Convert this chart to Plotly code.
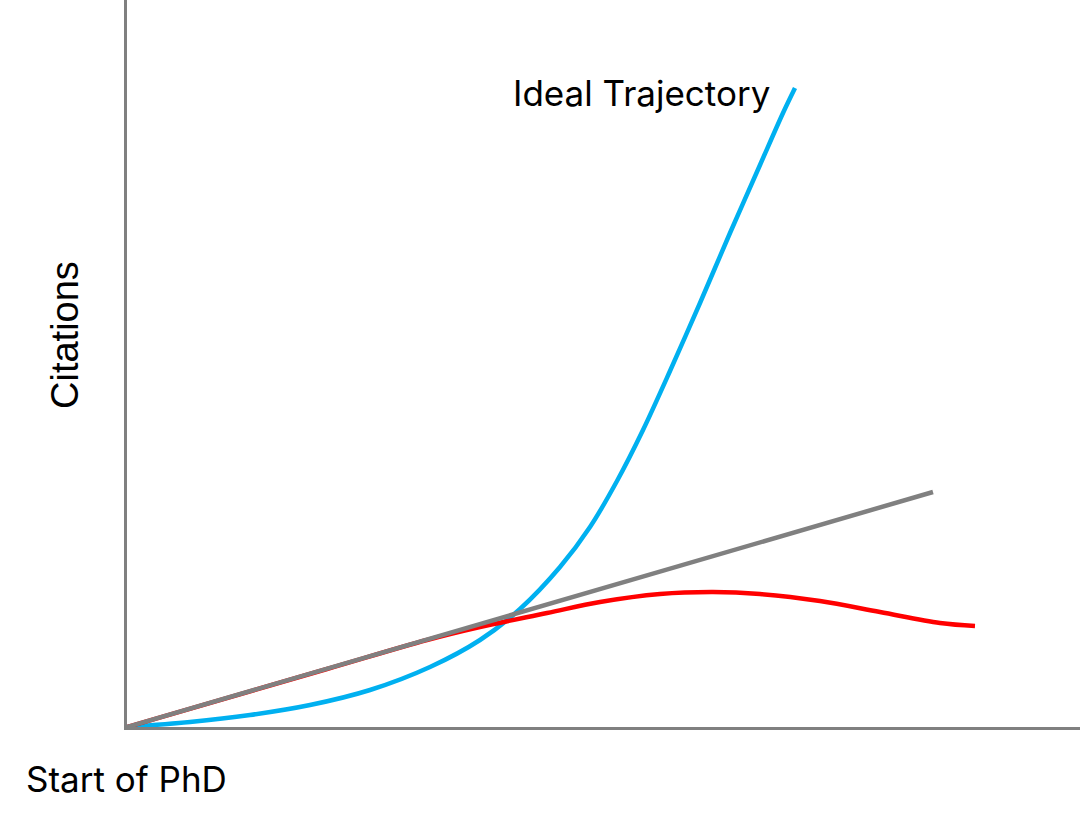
import plotly.graph_objects as go

# Data (arbitrary units: time since start of PhD, citations)
ideal_x = [0, 63, 123, 183, 243, 303, 353, 393, 433, 463, 490, 516, 543, 573, 603, 633, 656, 668]
ideal_y = [0, 5, 12, 22, 37, 60, 87, 118, 160, 200, 246, 297, 356, 424, 494, 562, 614, 639]

actual_x = [0, 200, 300, 353, 420, 473, 533, 586, 633, 693, 753, 813, 848]
actual_y = [0, 58, 87, 100, 114, 125, 133, 135, 133, 126, 115, 104, 101]

linear_x = [0, 806]
linear_y = [0, 235]

fig = go.Figure()
fig.add_trace(go.Scatter(x=ideal_x, y=ideal_y, mode="lines",
                         line=dict(color="#00B0F0", width=4.5, shape="spline", smoothing=0.9),
                         hoverinfo="skip"))
fig.add_trace(go.Scatter(x=actual_x, y=actual_y, mode="lines",
                         line=dict(color="#FF0000", width=4.5, shape="spline", smoothing=1.0),
                         hoverinfo="skip"))
fig.add_trace(go.Scatter(x=linear_x, y=linear_y, mode="lines",
                         line=dict(color="#808080", width=4.5), hoverinfo="skip"))

fig.update_layout(
    width=1080, height=825,
    margin=dict(l=127, r=0, t=0, b=98),
    paper_bgcolor="white", plot_bgcolor="white",
    showlegend=False,
    xaxis=dict(range=[0, 953], showgrid=False, zeroline=False, showticklabels=False,
               ticks="", showline=True, linecolor="#808080", linewidth=3, fixedrange=True),
    yaxis=dict(range=[0, 727], showgrid=False, zeroline=False, showticklabels=False,
               ticks="", showline=True, linecolor="#808080", linewidth=3, fixedrange=True),
    annotations=[
        dict(text="Ideal Trajectory", x=514, y=727 - 93, xref="x", yref="y",
             showarrow=False, font=dict(family="Inter", size=35, color="black"),
             xanchor="center", yanchor="middle"),
        dict(text="Start of PhD", x=(126 - 127) / 953, y=-52 / 727, xref="paper", yref="paper",
             showarrow=False, font=dict(family="Inter", size=35, color="black"),
             xanchor="center", yanchor="middle"),
        dict(text="Citations", x=(65 - 127) / 953, y=1 - 335 / 727, xref="paper", yref="paper",
             showarrow=False, textangle=-90,
             font=dict(family="Liberation Sans, Arial", size=38, color="black"),
             xanchor="center", yanchor="middle"),
    ],
)

fig.write_html("out.html", config={"displayModeBar": False},
               post_script="document.body.style.margin='0px';")
